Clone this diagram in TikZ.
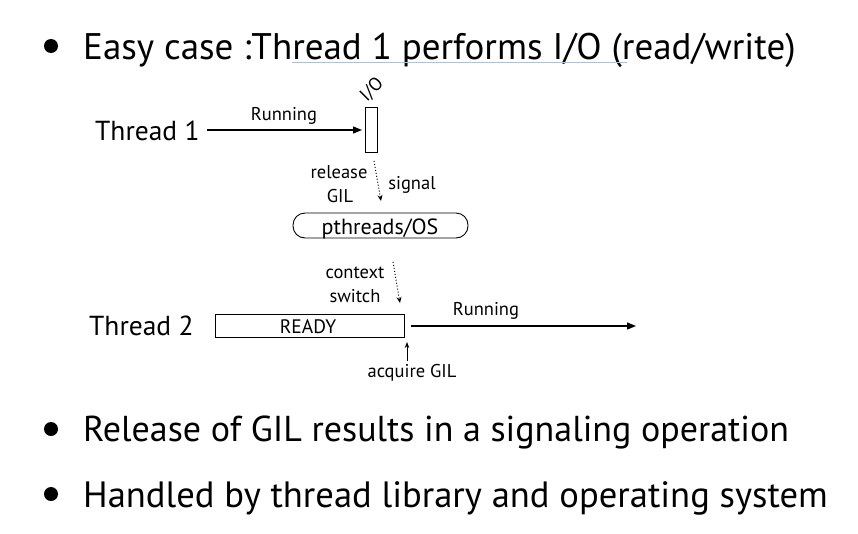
\documentclass[tikz,border=0pt]{standalone}
\usepackage{fontspec}
\setmainfont{PT Sans}
\usetikzlibrary{arrows.meta}
\definecolor{ulblue}{HTML}{A9C3DA}
\tikzset{
  big/.style={font=\fontsize{37}{40}\selectfont, inner sep=0pt, anchor=base west},
  thr/.style={font=\fontsize{27.5}{30}\selectfont, inner sep=0pt, anchor=base west},
  lbl/.style={font=\fontsize{18.5}{22}\selectfont, inner sep=0pt, anchor=base},
  solidarrow/.style={line width=1.3pt, -{Triangle[length=9pt,width=7pt]}},
  dotarrow/.style={line width=1pt, dotted, -{Stealth[length=6pt,width=5pt]}},
  box/.style={draw, line width=0.9pt, inner sep=0pt},
  dot/.style={circle, fill=black, minimum size=14pt, inner sep=0pt}
}
\begin{document}
\begin{tikzpicture}[x=1pt,y=-1pt]
\useasboundingbox (0,0) rectangle (858,533);
% bullets
\node[dot] (b1) at (51,46) {};
\node[big] (t1) at (83,59) {Easy case :Thread 1 performs I/O (read/write)};
\coordinate (ul1) at (292,62);
\coordinate (ul2) at (627,62);
\draw[ulblue, line width=0.8pt] (ul1) -- (ul2);
\node[dot] (b2) at (51,429) {};
\node[big, font=\fontsize{36}{40}\selectfont] (t2) at (83,441) {Release of GIL results in a signaling operation};
\node[dot] (b3) at (51,494) {};
\node[big, font=\fontsize{36.6}{40}\selectfont] (t3) at (83,507) {Handled by thread library and operating system};
% thread 1
\node[thr] (th1) at (95,140) {Thread 1};
\node[box, minimum width=12pt, minimum height=45pt] (io) at (371,130) {};
\node[font=\fontsize{18.5}{22}\selectfont, inner sep=0pt, rotate=45] (iol) at (372,90) {I/O};
\coordinate (r1s) at (207,130);
\coordinate (r1e) at (362,130);
\draw[solidarrow] (r1s) -- (r1e);
\node[lbl] (run1) at (284,120) {Running};
\coordinate (s1) at (374,161);
\coordinate (s2) at (381,201);
\draw[dotarrow] (s1) -- (s2);
\node[lbl] (rel1) at (339,178) {release};
\node[lbl] (rel2) at (340,202) {GIL};
\node[lbl] (sig) at (412,189) {signal};
\node[draw, line width=0.9pt, rounded corners=12pt, minimum width=175pt, minimum height=25pt, inner sep=0pt] (os) at (380.5,225.5) {};
\node[font=\fontsize{22}{24}\selectfont, inner sep=0pt, anchor=base] (ost) at (380,234) {pthreads/OS};
% thread 2
\node[thr] (th2) at (89,335) {Thread 2};
\node[box, minimum width=189pt, minimum height=23pt] (ready) at (309.5,325.5) {};
\node[font=\fontsize{19.5}{22}\selectfont, inner sep=0pt, anchor=base] (rdt) at (308,333) {READY};
\coordinate (r2s) at (411,326);
\coordinate (r2e) at (636,326);
\draw[solidarrow] (r2s) -- (r2e);
\node[lbl] (run2) at (486,315) {Running};
\coordinate (c1) at (393,262);
\coordinate (c2) at (400,303);
\draw[dotarrow] (c1) -- (c2);
\node[lbl] (ctx1) at (355,278) {context};
\node[lbl] (ctx2) at (355,302) {switch};
\coordinate (a1) at (407,361);
\coordinate (a2) at (407,342);
\draw[line width=0.8pt, -{Stealth[length=6pt,width=4.5pt]}] (a1) -- (a2);
\node[lbl] (acq) at (412,377) {acquire GIL};
\end{tikzpicture}
\end{document}
